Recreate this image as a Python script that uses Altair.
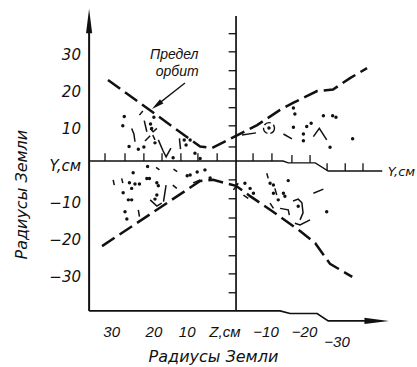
import altair as alt
import pandas as pd

# ---------------- data (figure units: Earth radii) ----------------
# "Предел орбит" - limit of orbits (dashed)
upper_limit_z = [34.6, 9.7, 6.5, 0.0, -5.7, -11.9, -15.4, -21.9, -26.2, -30.8, -35.4]
upper_limit_y = [22.0, 4.0, 3.6, 6.9, 9.8, 13.9, 15.8, 19.0, 19.4, 22.5, 25.2]
lower_limit_z = [36.2, 9.7, 6.2, 0.0, -3.8, -9.7, -17.3, -21.4, -25.4, -27.3, -31.4]
lower_limit_y = [-22.9, -5.3, -5.0, -6.6, -9.4, -13.4, -18.8, -22.1, -27.7, -28.8, -31.2]

# orbit traces: isolated dots
dot_z = [30.2, 30.6, 28.9, 26.4, 23.1, 22.8, 22.2, 14.0, 13.5, 21.9, 12.4, 11.1, 9.7, 24.9, 17.0,
         -15.5, -15.9, -15.5, -19.1, -20.3, -18.2, -18.2, -23.6, -26.1, -27.0, -25.4, -31.5, -8.9,
         23.9, 27.8, 13.2, 28.8, 28.2, 27.3, 26.1, 30.5, 24.1, 23.4, 21.4, 21.0, 21.4, 21.9, 29.1,
         28.2, 30.0, 29.5, 12.4, 10.5, 8.4, 7.0,
         -2.4, -3.8, -4.7, -9.2, -10.1, -10.1, -11.4, -14.1, -12.8, -13.2, -16.8, -24.5]
dot_y = [12.1, 9.6, 4.0, 3.3, 10.1, 8.9, 11.9, 5.8, 4.4, 5.0, 5.8, 2.2, 0.8, 3.9, 1.0,
         14.4, 12.8, 9.2, 9.4, 10.3, 7.4, 5.6, 12.3, 12.3, 11.9, 3.8, 6.1, 9.0,
         -1.4, -3.1, -3.9, -5.8, -7.3, -6.1, -6.1, -8.5, -4.6, -4.6, -5.8, -6.6, -9.1, -10.2, -10.4,
         -10.4, -13.6, -15.6, -3.7, -2.9, -2.3, -4.5,
         -5.9, -7.3, -8.6, -5.9, -6.4, -8.6, -10.4, -5.2, -8.6, -9.4, -12.1, -13.6]

# orbit traces: short strokes (one id per stroke)
trace_id = [1, 1, 1, 2, 2, 3, 3, 4, 4, 4, 5, 5, 6, 6, 6, 6, 7, 7, 8, 8,
            9, 9, 10, 10, 10, 11, 11,
            12, 12, 13, 13, 14, 14, 15, 15, 16, 16, 17, 17, 18, 18, 18, 19, 19, 20, 20,
            21, 21, 22, 22, 23, 23, 24, 24, 25, 25, 26, 26,
            27, 27, 27, 27, 27, 28, 28, 28, 29, 29, 29]
trace_z = [28.2, 27.6, 27.3, 26.1, 25.2, 24.8, 24.1, 23.2, 22.4, 21.4, 22.5, 21.9,
           21.0, 19.7, 18.9, 17.6, 15.3, 15.0, 24.6, 23.2,
           -12.8, -15.1, -20.9, -22.5, -24.5, -1.6, -5.4,
           21.6, 20.7, 16.9, 15.9, 33.2, 32.9, 30.9, 30.6, 18.9, 19.6, 17.1, 16.0,
           23.2, 21.4, 20.1, 26.4, 26.1, 11.6, 9.7,
           0.7, -0.6, -2.0, -3.3, -8.3, -8.7, -10.5, -11.0, -9.2, -10.1, -20.9, -23.6,
           -15.4, -16.8, -17.8, -18.1, -17.3, -15.9, -17.3, -20.0, -11.9, -14.1, -14.4]
trace_y = [8.9, 7.4, 5.3, 12.5, 13.6, 11.0, 8.0, 8.9, 8.0, 8.9, 7.1, 5.8,
           5.8, 2.8, 1.2, 3.6, 6.2, 3.3, 5.5, 6.9,
           7.4, 6.1, 6.7, 8.9, 5.8, 7.1, 7.7,
           -1.6, -2.3, -2.1, -2.8, -5.0, -6.4, -4.6, -5.9, -6.4, -10.9, -6.4, -7.3,
           -10.4, -12.1, -11.3, -13.1, -14.9, -5.8, -5.0,
           -7.7, -5.9, -9.1, -10.0, -3.2, -4.6, -7.3, -9.1, -11.3, -12.7, -8.6, -7.5,
           -10.7, -10.2, -11.2, -13.9, -15.8, -16.7, -17.2, -15.8, -12.7, -13.1, -14.5]

loop_z = [-8.9]
loop_y = [9.0]

# axes drawn as in the figure
midline_z = [39.7, -12.7, -14.1, -21.4, -24.9, -39.5]
midline_y = [0.1, 0.1, -0.4, -0.4, -2.6, -2.6]
bottom_z = [39.7, -11.9, -14.6, -21.9, -24.9, -36.0]
bottom_y = [-40.4, -40.4, -41.1, -41.1, -43.1, -43.1]
center_tick_y = [34.5, 29.6, 24.5, 19.6, 14.5, 9.6, 3.9, -5.0, -10.1, -15.3, -20.4, -25.5, -30.4, -35.5]
line_tick_z = [35.4, 30.0, 24.9, 20.0, 14.9, 10.3, 5.1, -4.6, -9.7, -15.1, -20.0, -24.6, -29.5, -34.3]
line_tick_base = [0.1, 0.1, 0.1, 0.1, 0.1, 0.1, 0.1, 0.1, 0.1, -0.4, -0.4, -2.6, -2.6, -2.6]

y_labels = ["30", "20", "10", "Y,см", "−10", "−20", "−30"]
y_label_values = [30, 20, 10, 0, -10, -20, -30]
z_labels = ["30", "20", "10", "Z,см", "−10", "−20", "−30"]
z_label_z = [33.6, 22.2, 13.2, 3.0, -8.1, -18.5, -27.3]
z_label_y = [-46.0, -46.0, -46.0, -46.0, -46.0, -46.0, -48.7]

# ---------------- chart ----------------
xs = alt.Scale(domain=[-41.6, 40.0], reverse=True, nice=False, zero=False)
ys = alt.Scale(domain=[-40.7, 40.9], nice=False, zero=False)
INK = "#111111"
FONT_NUM = "DejaVu Sans"
FONT_TXT = "Liberation Sans"


def X(f="z"):
    return alt.X(f"{f}:Q", scale=xs, axis=None)


def Y(f="y"):
    return alt.Y(f"{f}:Q", scale=ys, axis=None)


def path_df(z, y, g=0):
    return pd.DataFrame({"z": z, "y": y, "g": [g] * len(z), "i": list(range(len(z)))})


limits = pd.concat([path_df(upper_limit_z, upper_limit_y, 0),
                    path_df(lower_limit_z, lower_limit_y, 1)])
limit_layer = alt.Chart(limits).mark_line(
    color=INK, strokeWidth=2.5, strokeDash=[15, 6]
).encode(x=X(), y=Y(), detail="g:N", order="i:Q")

traces = pd.DataFrame({"z": trace_z, "y": trace_y, "g": trace_id,
                       "i": list(range(len(trace_z)))})
trace_layer = alt.Chart(traces).mark_line(color=INK, strokeWidth=1.5).encode(
    x=X(), y=Y(), detail="g:N", order="i:Q")

dots = pd.DataFrame({"z": dot_z, "y": dot_y})
dot_layer = alt.Chart(dots).mark_circle(color=INK, size=12, opacity=1).encode(x=X(), y=Y())

loops = pd.DataFrame({"z": loop_z, "y": loop_y})
loop_layer = alt.Chart(loops).mark_point(
    shape="circle", filled=False, size=120, color=INK, strokeWidth=1.4, strokeDash=[7, 3], opacity=1
).encode(x=X(), y=Y())

midline = path_df(midline_z, midline_y)
midline_layer = alt.Chart(midline).mark_line(color=INK, strokeWidth=1.4).encode(
    x=X(), y=Y(), order="i:Q")
bottom = path_df(bottom_z, bottom_y)
bottom_layer = alt.Chart(bottom).mark_line(color=INK, strokeWidth=1.7).encode(
    x=X(), y=Y(), order="i:Q")

left_axis = alt.Chart(pd.DataFrame({"z": [39.7], "y": [-40.4], "y2": [36.0]})).mark_rule(
    color=INK, strokeWidth=2.0).encode(x=X(), y=Y(), y2="y2:Q")
center_axis = alt.Chart(pd.DataFrame({"z": [0.0], "y": [-40.4], "y2": [39.3]})).mark_rule(
    color=INK, strokeWidth=1.7).encode(x=X(), y=Y(), y2="y2:Q")

ctick = pd.DataFrame({"y": center_tick_y})
ctick["z"] = 0.0
ctick["z2"] = 2.0
center_ticks = alt.Chart(ctick).mark_rule(color=INK, strokeWidth=1.3).encode(
    x=X(), x2="z2:Q", y=Y())

ltick = pd.DataFrame({"z": line_tick_z, "y": line_tick_base})
ltick["y2"] = ltick["y"] + 2.1
line_ticks = alt.Chart(ltick).mark_rule(color=INK, strokeWidth=1.3).encode(
    x=X(), y=Y(), y2="y2:Q")

arrow_up = "M0,-1L0.25,1L-0.25,1Z"
arrows = pd.DataFrame({"z": [39.7, -38.0], "y": [37.9, -43.1], "a": [0, 90]})
arrow_layer = alt.Chart(arrows).mark_point(
    shape=arrow_up, filled=True, color=INK, opacity=1, size=600
).encode(x=X(), y=Y(), angle=alt.Angle("a:Q", scale=None))

pointer = path_df([13.8, 21.4], [21.2, 15.2])
pointer_layer = alt.Chart(pointer).mark_line(color=INK, strokeWidth=1.3).encode(
    x=X(), y=Y(), order="i:Q")
pointer_head = alt.Chart(pd.DataFrame({"z": [21.4], "y": [15.2]})).mark_point(
    shape="M0,-1L0.45,1L-0.45,1Z", filled=True, color=INK, opacity=1, size=150, angle=232
).encode(x=X(), y=Y())

note = pd.DataFrame({"t": ["Предел", "орбит"], "z": [16.7, 15.9], "y": [27.6, 23.1]})
note_layer = alt.Chart(note).mark_text(
    font=FONT_TXT, fontStyle="italic", fontSize=14, color=INK, align="center",
    baseline="alphabetic").encode(x=X(), y=Y(), text="t:N")

ylab = pd.DataFrame({"t": y_labels, "y": y_label_values})
ylab["z"] = 41.9
ylab_layer = alt.Chart(ylab).mark_text(
    font=FONT_NUM, fontStyle="italic", fontSize=15, color=INK, align="right",
    baseline="middle", dy=5).encode(x=X(), y=Y(), text="t:N")

zlab = pd.DataFrame({"t": z_labels, "z": z_label_z, "y": z_label_y})
zlab_layer = alt.Chart(zlab).mark_text(
    font=FONT_TXT, fontStyle="italic", fontSize=15, color=INK, align="center",
    baseline="middle").encode(x=X(), y=Y(), text="t:N")

right_lab = alt.Chart(pd.DataFrame({"t": ["Y,см"], "z": [-41.0], "y": [-3.0]})).mark_text(
    font=FONT_NUM, fontStyle="italic", fontSize=13, color=INK, align="left",
    baseline="middle").encode(x=X(), y=Y(), text="t:N")

title_left = alt.Chart(pd.DataFrame({"t": ["Радиусы Земли"], "z": [56.4], "y": [-9.0]})).mark_text(
    font=FONT_NUM, fontStyle="italic", fontSize=16, color=INK, align="center",
    baseline="alphabetic", angle=270).encode(x=X(), y=Y(), text="t:N")
title_bottom = alt.Chart(pd.DataFrame({"t": ["Радиусы Земли"], "z": [6.1], "y": [-54.3]})).mark_text(
    font=FONT_NUM, fontStyle="italic", fontSize=16, color=INK, align="center",
    baseline="alphabetic").encode(x=X(), y=Y(), text="t:N")

chart = alt.layer(
    left_axis, center_axis, midline_layer, bottom_layer, center_ticks, line_ticks,
    arrow_layer, limit_layer, trace_layer, dot_layer, loop_layer,
    pointer_layer, pointer_head, note_layer, ylab_layer, zlab_layer, right_lab,
    title_left, title_bottom,
).properties(
    width=302, height=302,
    autosize=alt.AutoSizeParams(type="none"),
    padding={"left": 88, "top": 10, "right": 27, "bottom": 55},
    background="white",
).configure_view(stroke=None)

chart.save("out.html", embed_options={"renderer": "svg", "actions": False})
